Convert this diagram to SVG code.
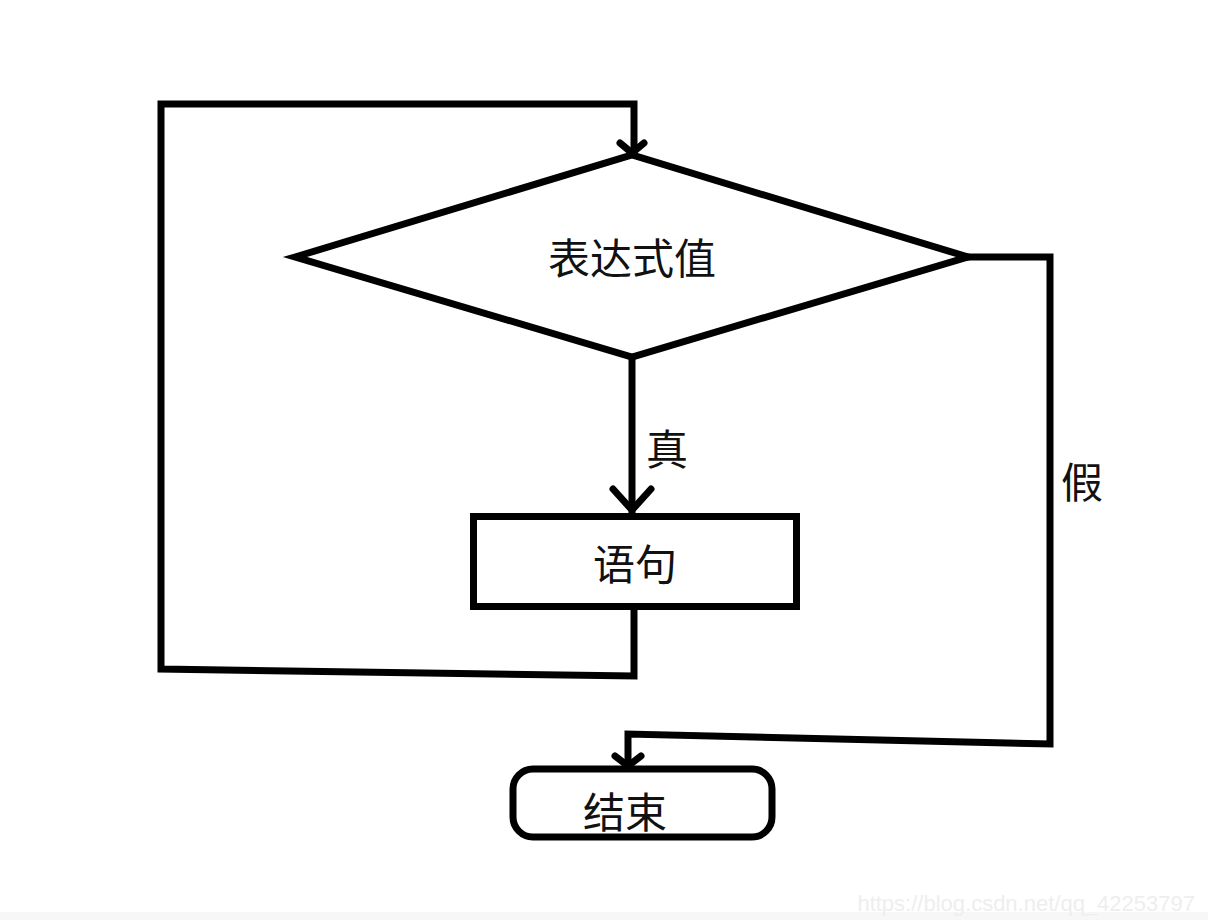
<svg xmlns="http://www.w3.org/2000/svg" width="1208" height="920" viewBox="0 0 1208 920">
<style>
.s{fill:none;stroke:#000;stroke-width:7;stroke-linejoin:miter;stroke-linecap:square}
.a{fill:none;stroke:#000;stroke-width:7;stroke-linecap:round;stroke-linejoin:round}
.t{font-family:"Microsoft YaHei","Noto Sans CJK SC",sans-serif;font-size:42px;fill:#111;text-anchor:middle;dominant-baseline:central}
</style>
<rect width="1208" height="920" fill="#fff"/>
<rect x="0" y="912" width="1208" height="8" fill="#f7f7f7"/>
<g id="connectors">
<path class="s" d="M632,357 V510"/>
<path class="a" d="M613,489 L632,510 L651,489"/>
<path class="s" d="M634,612 V676 L161,669 V104 H634 V150"/>
<path class="a" d="M620,143 L632,153 L644,143"/>
<path class="s" d="M968,257 H1050 V744 L628,734 V764"/>
<path class="a" d="M615,756 L628,766 L641,756"/>
<text class="t" x="667" y="446" font-size="40">真</text>
<text class="t" x="1082" y="479" font-size="40">假</text>
</g>
<g id="decision">
<polygon class="s" points="295,257 632,155 968,257 632,357"/>
<text class="t" x="632" y="255">表达式值</text>
</g>
<g id="statement">
<rect class="s" x="473.5" y="516.5" width="323" height="90"/>
<text class="t" x="635" y="561">语句</text>
</g>
<g id="end">
<rect class="s" x="513" y="769" width="259" height="68" rx="20" ry="20"/>
<text class="t" x="625" y="809">结束</text>
</g>
<text x="1195" y="911" font-family="Liberation Sans, Arial, sans-serif" font-size="22" fill="#eeeeee" text-anchor="end">https://blog.csdn.net/qq_42253797</text>
</svg>
